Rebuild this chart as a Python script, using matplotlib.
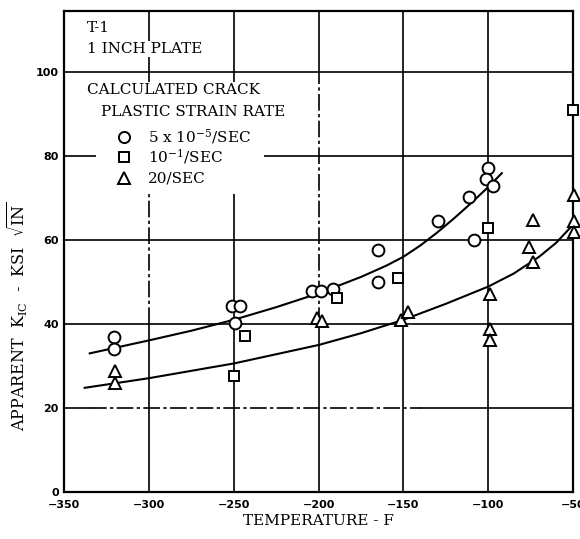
import numpy as np
import matplotlib
matplotlib.use("Agg")
import matplotlib.pyplot as plt
from matplotlib.patches import Rectangle

plt.rcParams['mathtext.fontset'] = 'dejavuserif'

# temperature (F) / apparent K_Ic (ksi sqrt(in)) per strain rate
circ_t = [-320.5, -320.5, -251, -246.5, -249.5, -203.8, -198.9, -191.4, -165, -165,
          -129.9, -111.6, -108.6, -100.4, -101.4, -97.4]
circ_k = [36.8, 34.0, 44.3, 44.3, 40.2, 47.9, 47.9, 48.3, 57.6, 50.1,
          64.5, 70.3, 60.0, 77.1, 74.4, 72.9]

sq_t = [-250, -243.2, -189.4, -153.2, -100.4, -50]
sq_k = [27.5, 37.1, 46.1, 50.9, 62.8, 91.0]

tri_t = [-320, -320, -201.2, -197.9, -151.4, -147.6, -98.8, -99.2, -99.2,
         -73.8, -75.8, -73.8, -49.5, -49.5, -49.5]
tri_k = [28.9, 26.0, 41.4, 40.7, 41.0, 42.9, 47.1, 38.8, 36.2,
         64.8, 58.4, 54.8, 70.7, 64.4, 62.0]

# faired curves
upper_t = [-335, -300, -275, -250, -225, -200, -175, -160, -150, -140, -130, -120,
           -110, -100, -92]
upper_k = [33.0, 36.1, 38.4, 41.0, 44.0, 47.3, 51.2, 53.9, 56.0, 58.7, 61.8, 65.2,
           68.8, 72.6, 75.9]
lower_t = [-338, -300, -250, -200, -175, -150, -125, -100, -85, -70, -60, -51]
lower_k = [24.8, 27.1, 30.6, 35.0, 37.8, 41.0, 44.8, 48.9, 52.0, 56.0, 59.3, 63.2]

x_ticks = [-350, -300, -250, -200, -150, -100, -50]
y_ticks = [0, 20, 40, 60, 80, 100]

serif = 'DejaVu Serif'
dashdot = (0, (10, 2, 2, 2))

fig = plt.figure(figsize=(5.8, 5.39), dpi=100)
ax = fig.add_axes([0.1109, 0.0872, 0.8771, 0.8924])
ax.set_xlim(-350, -50)
ax.set_ylim(0, 114.5)

# grid
for yv in [40, 60, 80, 100]:
    ax.plot([-350, -50], [yv, yv], color='k', lw=1.2, zorder=1)
ax.plot([-350, -335], [20, 20], color='k', lw=1.2, zorder=1)
ax.plot([-335, -140], [20, 20], color='k', lw=1.2, ls=dashdot, zorder=1)
ax.plot([-140, -50], [20, 20], color='k', lw=1.2, zorder=1)
for xv in [-300, -250, -200, -150, -100]:
    ax.plot([xv, xv], [0, 40], color='k', lw=1.2, zorder=1)
    ax.plot([xv, xv], [40, 100], color='k', lw=1.2,
            ls=dashdot if xv in (-300, -200) else '-', zorder=1)
    ax.plot([xv, xv], [100, 114.5], color='k', lw=1.2, zorder=1)

# white panel behind the rate key
ax.add_patch(Rectangle((0.063, 0.62), 0.33, 0.205, transform=ax.transAxes,
                       facecolor='white', edgecolor='none', zorder=2))

ax.plot(upper_t, upper_k, color='k', lw=1.5, zorder=3)
ax.plot(lower_t, lower_k, color='k', lw=1.5, zorder=3)

mk = dict(ls='none', mfc='white', mec='k', mew=1.4, clip_on=False, zorder=4)
ax.plot(circ_t, circ_k, marker='o', ms=8.5, **mk)
ax.plot(sq_t, sq_k, marker='s', ms=7.5, **mk)
ax.plot(tri_t, tri_k, marker='^', ms=8.5, **mk)

# key
tb = dict(facecolor='white', edgecolor='none', pad=1)
fs = 11
ax.text(0.0446, 0.9647, 'T-1', transform=ax.transAxes, family=serif, fontsize=fs,
        va='center', ha='left', bbox=tb, zorder=5)
ax.text(0.0446, 0.921, '1 INCH PLATE', transform=ax.transAxes, family=serif, fontsize=fs,
        va='center', ha='left', bbox=tb, zorder=5)
ax.text(0.0446, 0.8358, 'CALCULATED CRACK', transform=ax.transAxes, family=serif,
        fontsize=fs, va='center', ha='left', bbox=tb, zorder=5)
ax.text(0.0721, 0.7906, 'PLASTIC STRAIN RATE', transform=ax.transAxes, family=serif,
        fontsize=fs, va='center', ha='left', bbox=tb, zorder=5)
key_rows = [('o', 8.0, 0.7387, r'5 x 10$^{-5}$/SEC'),
            ('s', 7.0, 0.6971, r'10$^{-1}$/SEC'),
            ('^', 8.0, 0.6522, '20/SEC')]
for m, s, yy, lab in key_rows:
    ax.plot([0.1174], [yy], marker=m, ms=s, ls='none', mfc='white', mec='k', mew=1.4,
            transform=ax.transAxes, zorder=5)
    ax.text(0.1647, yy, lab, transform=ax.transAxes, family=serif, fontsize=fs,
            va='center', ha='left', zorder=5)

ax.set_xticks(x_ticks)
ax.set_yticks(y_ticks)
ax.tick_params(axis='x', length=0, pad=6, labelsize=8)
ax.tick_params(axis='y', length=0, pad=4, labelsize=8)
for lab in ax.get_xticklabels() + ax.get_yticklabels():
    lab.set_fontweight('bold')
for sp in ax.spines.values():
    sp.set_linewidth(1.6)

ax.set_xlabel('TEMPERATURE - F', family=serif, fontsize=11, labelpad=3)
fig.text(0.031, 1 - 316 / 539, r'APPARENT  K$_{\rm IC}$  -  KSI  $\sqrt{\rm IN}$',
         family=serif, fontsize=11.5, rotation=90, ha='center', va='center')

fig.savefig('out.png', dpi=100)
